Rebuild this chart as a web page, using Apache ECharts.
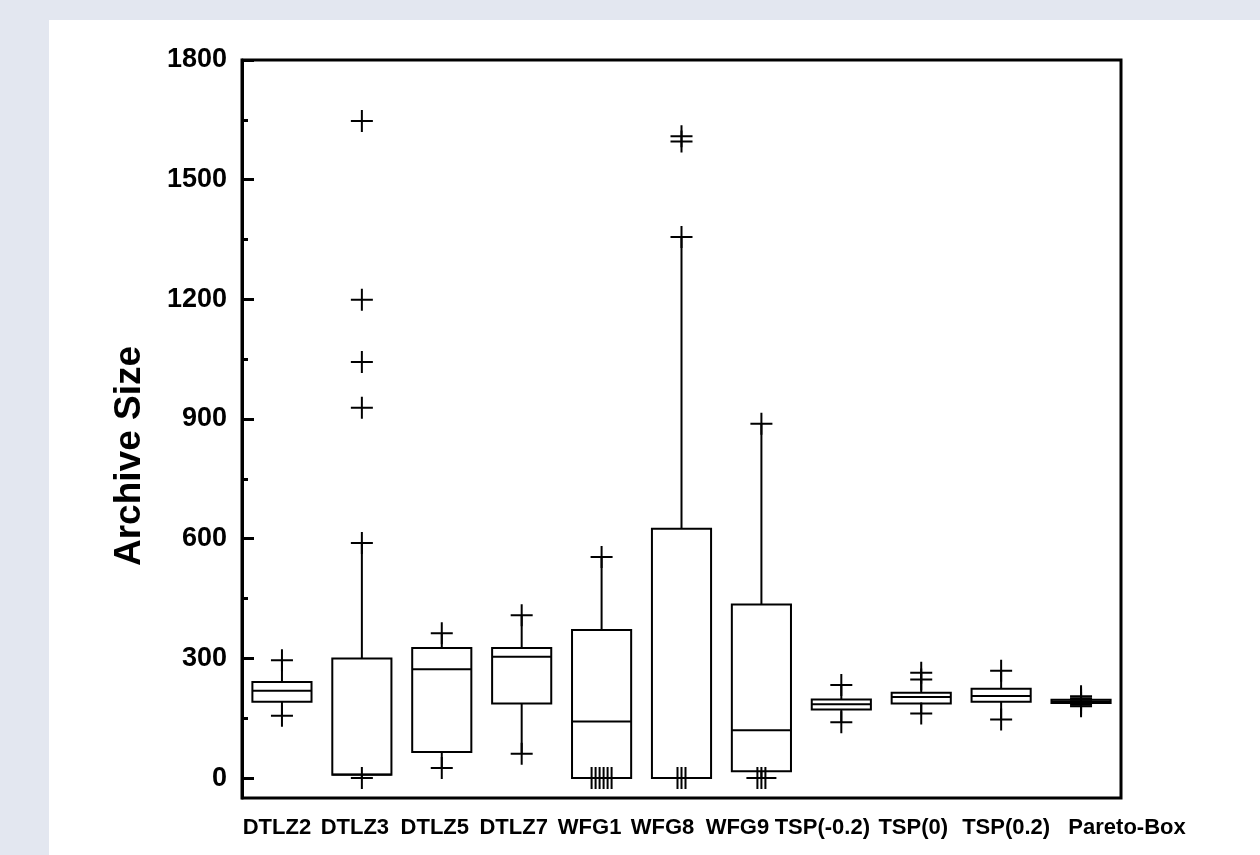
<!DOCTYPE html>
<html>
<head>
<meta charset="utf-8">
<title>Archive Size</title>
<script src="https://cdn.jsdelivr.net/npm/echarts@6/dist/echarts.min.js"></script>
<style>
  html, body {
    margin: 0;
    padding: 0;
    width: 1260px;
    height: 855px;
    background: #e3e7f0;
    overflow: hidden;
  }
  #panel {
    position: absolute;
    left: 49px;
    top: 20px;
    right: 0;
    bottom: 0;
    background: #ffffff;
  }
  #chart {
    position: absolute;
    left: 0;
    top: 0;
    width: 1260px;
    height: 855px;
  }
</style>
</head>
<body>
<div id="panel"></div>
<div id="chart"></div>
<script>
// categories on the x axis
const categories = ['DTLZ2', 'DTLZ3', 'DTLZ5', 'DTLZ7', 'WFG1', 'WFG8', 'WFG9',
  'TSP(-0.2)', 'TSP(0)', 'TSP(0.2)', 'Pareto-Box']

// box statistics
const whiskerLow  = [156,   0,  25,  61,   0,    0,   0, 140, 162, 147, 186]
const q1          = [191,   8,  65, 187,   0,    0,  17, 172, 187, 191, 188]
const median      = [219,   9, 273, 304, 142,    0, 120, 185, 203, 206, 192]
const q3          = [241, 300, 326, 326, 371,  625, 435, 197, 214, 224, 196]
const whiskerHigh = [295, 589, 363, 408, 554, 1356, 888, 233, 264, 269, 199]

// "+" marks (whisker ends and outliers), one list per category
const crossMarks = [
  [156, 295],
  [0, 589, 928, 1043, 1199, 1647],
  [25, 363],
  [61, 408],
  [0, 0, 0, 0, 0, 0, 554],
  [0, 0, 0, 1356, 1596, 1609],
  [0, 0, 0, 888],
  [140, 233],
  [162, 247, 264],
  [147, 269],
  [180, 184, 188, 196, 200, 205]
]

// y axis ticks
const yTickLabels = [0, 300, 600, 900, 1200, 1500, 1800]
const yMinorTicks = [150, 450, 750, 1050, 1350, 1650]

// the category names under the plot are not evenly centred in the original
const labelNudge = [-5, -7, -7, -8, -12, -19, -24, -19, -8, 5, 46]

const boxData = categories.map((c, i) =>
  [i, whiskerLow[i], q1[i], median[i], q3[i], whiskerHigh[i]])

// identical values get spread a little sideways so every mark stays visible
const markData = []
crossMarks.forEach((list, i) => {
  const counts = {}
  list.forEach(v => { counts[v] = (counts[v] || 0) + 1 })
  const seen = {}
  list.forEach(v => {
    const n = counts[v]
    const k = seen[v] || 0
    seen[v] = k + 1
    markData.push({ value: [i, v], symbolOffset: [(k - (n - 1) / 2) * 4, 0] })
  })
})

const font = '"Liberation Sans", Arial, Helvetica, sans-serif'

const xAxisData = categories.map((c, i) => {
  const d = labelNudge[i]
  const pad = d >= 0 ? [0, 0, 0, 2 * d] : [0, -2 * d, 0, 0]
  return { value: c, textStyle: { padding: pad } }
})

function renderBox(params, api) {
  const i = api.value(0)
  const w = api.size([1, 0])[0] * 0.74
  const pLow = api.coord([i, api.value(1)])
  const pQ1 = api.coord([i, api.value(2)])
  const pMed = api.coord([i, api.value(3)])
  const pQ3 = api.coord([i, api.value(4)])
  const pHigh = api.coord([i, api.value(5)])
  const x = pQ1[0]
  const left = x - w / 2
  const lineStyle = { stroke: '#000', lineWidth: 2, fill: null }
  return {
    type: 'group',
    children: [
      { type: 'line', shape: { x1: x, y1: pHigh[1], x2: x, y2: pQ3[1] }, style: lineStyle },
      { type: 'line', shape: { x1: x, y1: pQ1[1], x2: x, y2: pLow[1] }, style: lineStyle },
      { type: 'rect', shape: { x: left, y: pQ3[1], width: w, height: pQ1[1] - pQ3[1] },
        style: { stroke: '#000', lineWidth: 2, fill: 'none' } },
      { type: 'line', shape: { x1: left, y1: pMed[1], x2: left + w, y2: pMed[1] }, style: lineStyle }
    ]
  }
}

const chart = echarts.init(document.getElementById('chart'), null, { renderer: 'canvas' })

chart.setOption({
  backgroundColor: 'transparent',
  animation: false,
  grid: {
    left: 242,
    top: 60,
    right: 139,
    bottom: 57,
    show: true,
    borderColor: '#000',
    borderWidth: 3,
    backgroundColor: 'transparent'
  },
  xAxis: {
    type: 'category',
    data: xAxisData,
    boundaryGap: true,
    axisLine: { show: false },
    axisTick: { show: false },
    splitLine: { show: false },
    axisLabel: {
      interval: 0,
      hideOverlap: false,
      margin: 19,
      color: '#000',
      fontFamily: font,
      fontWeight: 'bold',
      fontSize: 22
    }
  },
  yAxis: [
    {
      type: 'value',
      min: -50,
      max: 1800,
      name: 'Archive Size',
      nameLocation: 'middle',
      nameRotate: 90,
      nameGap: 94,
      nameTextStyle: {
        color: '#000',
        fontFamily: font,
        fontWeight: 'bold',
        fontSize: 37,
        padding: [0, 54, 0, 0]
      },
      splitLine: { show: false },
      axisLine: { show: true, lineStyle: { color: '#000', width: 3 } },
      axisTick: {
        show: true,
        inside: true,
        length: 12,
        customValues: yTickLabels,
        lineStyle: { color: '#000', width: 3 }
      },
      axisLabel: {
        customValues: yTickLabels,
        formatter: v => String(v),
        margin: 15,
        color: '#000',
        fontFamily: font,
        fontWeight: 'bold',
        fontSize: 27
      }
    },
    {
      type: 'value',
      min: -50,
      max: 1800,
      position: 'left',
      splitLine: { show: false },
      axisLine: { show: false },
      axisLabel: { show: false },
      axisTick: {
        show: true,
        inside: true,
        length: 6,
        customValues: yMinorTicks,
        lineStyle: { color: '#000', width: 3 }
      }
    }
  ],
  series: [
    {
      type: 'custom',
      name: 'box',
      renderItem: renderBox,
      encode: { x: 0, y: [1, 2, 3, 4, 5] },
      data: boxData,
      z: 2
    },
    {
      type: 'scatter',
      name: 'marks',
      symbol: 'path://M10,0L10,20M0,10L20,10',
      symbolSize: 22,
      itemStyle: { color: 'none', borderColor: '#000', borderWidth: 2, opacity: 1 },
      data: markData,
      z: 3
    }
  ]
})
</script>
</body>
</html>
